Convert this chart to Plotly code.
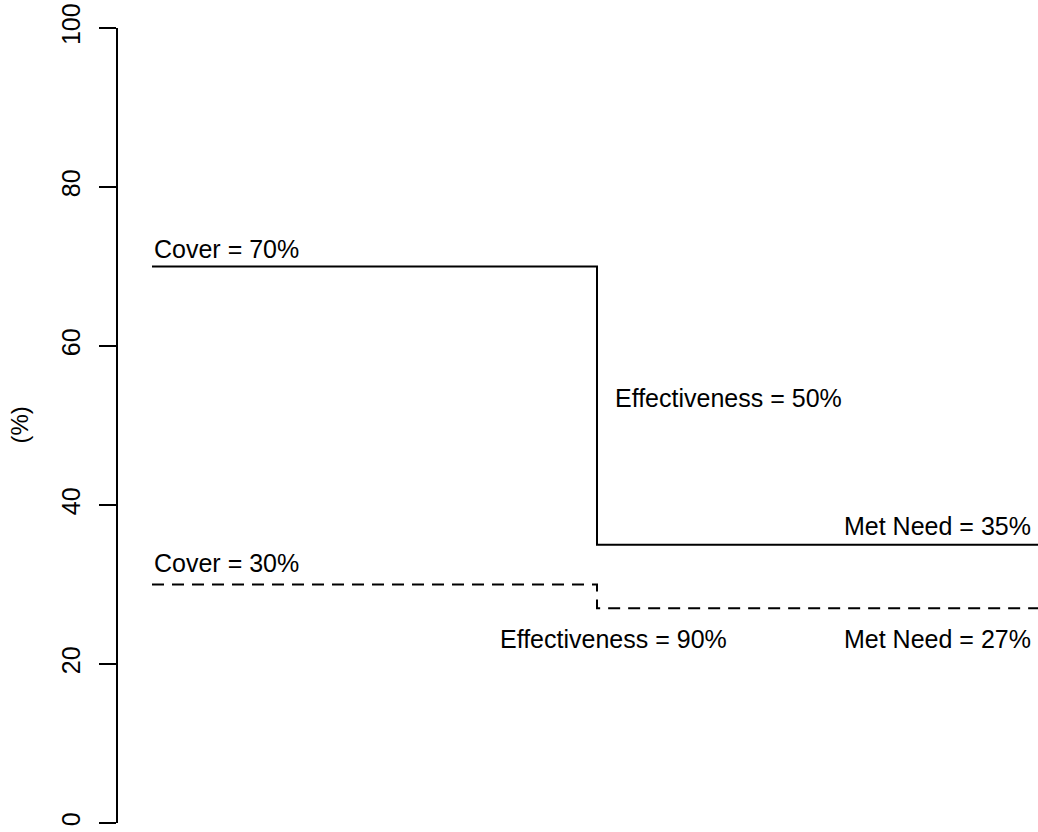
import plotly.graph_objects as go

stage_x = [0, 1, 2]
cover = [70, 30]
effectiveness = [50, 90]
met_need = [35, 27]
line_dash = ["solid", "12px,8px"]
y_ticks = [0, 20, 40, 60, 80, 100]
y_title = "(%)"

fig = go.Figure()
for c, e, m, d in zip(cover, effectiveness, met_need, line_dash):
    fig.add_trace(go.Scatter(
        x=stage_x, y=[c, m, m], mode="lines", line_shape="hv",
        line=dict(color="black", width=2, dash=d), showlegend=False, hoverinfo="skip"))

FONT = dict(family="Liberation Sans, Arial, sans-serif", size=25, color="black")
ann = []
# scenario 1 (solid)
ann.append(dict(x=0, y=cover[0] + 2.2, text=f"Cover = {cover[0]}%", xanchor="left", yanchor="middle"))
ann.append(dict(x=1.036, y=53.5, text=f"Effectiveness = {effectiveness[0]}%", xanchor="left", yanchor="middle"))
ann.append(dict(x=1.98, y=met_need[0] + 2.4, text=f"Met Need = {met_need[0]}%", xanchor="right", yanchor="middle"))
# scenario 2 (dashed)
ann.append(dict(x=0, y=cover[1] + 2.7, text=f"Cover = {cover[1]}%", xanchor="left", yanchor="middle"))
ann.append(dict(x=1.036, y=met_need[1] - 3.9, text=f"Effectiveness = {effectiveness[1]}%", xanchor="center", yanchor="middle"))
ann.append(dict(x=1.98, y=met_need[1] - 3.9, text=f"Met Need = {met_need[1]}%", xanchor="right", yanchor="middle"))
for a in ann:
    a.update(xref="x", yref="y", showarrow=False, font=FONT)
# y-axis title
ann.append(dict(x=(19 - 118) / 920, y=0.5, xref="paper", yref="paper", text=y_title,
                textangle=-90, showarrow=False, font=dict(FONT, size=24),
                xanchor="center", yanchor="middle"))

fig.update_layout(
    width=1038, height=832,
    margin=dict(l=118, r=0, t=28, b=9),
    paper_bgcolor="white", plot_bgcolor="white",
    annotations=ann,
    xaxis=dict(range=[(118 - 152) / 445, (1038 - 152) / 445], visible=False),
    yaxis=dict(range=[0, 100], tickvals=y_ticks, ticktext=[str(v) for v in y_ticks],
               showline=True, linecolor="black", linewidth=2,
               ticks="outside", ticklen=17, tickwidth=2, tickcolor="black",
               tickangle=-90, ticklabelstandoff=9,
               showgrid=False, zeroline=False,
               tickfont=dict(family="Liberation Sans, Arial, sans-serif", size=25, color="black")),
)
fig.write_html("out.html")
